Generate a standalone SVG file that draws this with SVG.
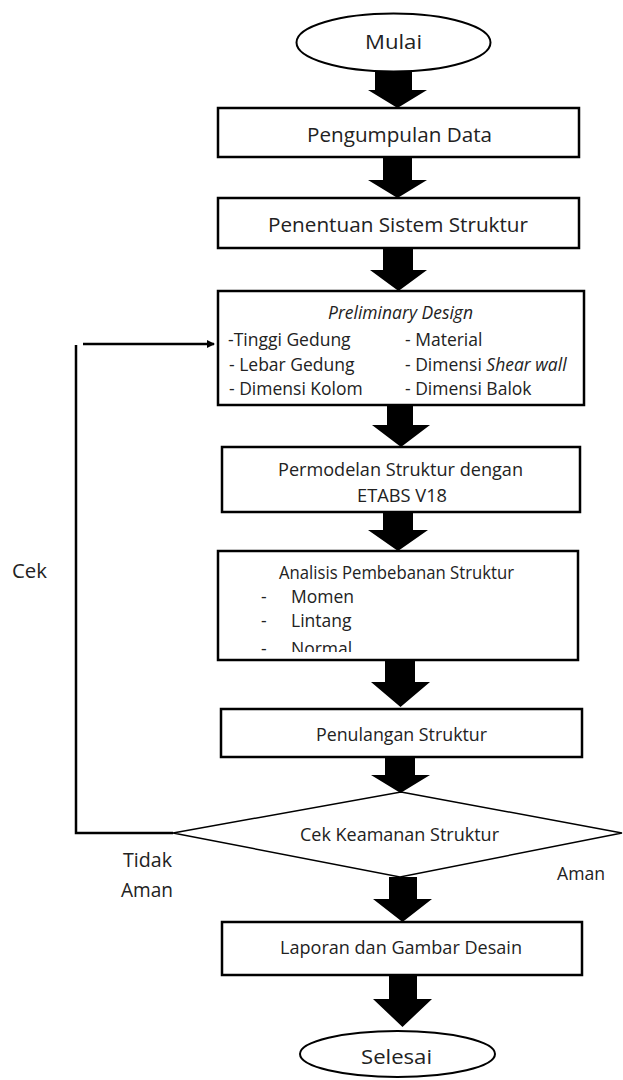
<svg xmlns="http://www.w3.org/2000/svg" width="623" height="1080" viewBox="0 0 623 1080">
<style>
.box{fill:#fff;stroke:#000;stroke-width:2.5}
.ell{fill:#fff;stroke:#000;stroke-width:2}
.dia{fill:#fff;stroke:#000;stroke-width:1.5}
.arr{fill:#000}
.ln{fill:none;stroke:#000;stroke-width:2.5}
text{font-family:"Open Sans","Noto Sans",sans-serif;fill:#222;font-size:17.5px}
.big{font-size:20px}
.it{font-style:italic}
</style>
<defs>
<marker id="ah" markerWidth="8" markerHeight="8" refX="7" refY="4" orient="auto" markerUnits="userSpaceOnUse">
<path d="M0,0 L8,4 L0,8 z" fill="#000"/>
</marker>
<clipPath id="clipA"><rect x="218" y="551" width="360" height="101"/></clipPath>
</defs>

<g id="connectors">
<path class="arr" d="M375,72 H412 V90 H427 L397.5,108 L368,90 H375 Z"/>
<path class="arr" d="M383,157 H412 V180 H427 L397.5,198 L368,180 H383 Z"/>
<path class="arr" d="M383,248 H413 V270 H427 L398.5,291 L370,270 H383 Z"/>
<path class="arr" d="M387,405 H413 V425 H430 L401,447 L372,425 H387 Z"/>
<path class="arr" d="M383,511 H413 V530 H428 L398,551 L368,530 H383 Z"/>
<path class="arr" d="M385,660 H415 V682 H430 L400.5,707 L371,682 H385 Z"/>
<path class="arr" d="M385,757 H415 V775 H430 L400.5,793 L371,775 H385 Z"/>
<path class="arr" d="M389,877 H417 V899 H432 L402.5,922 L373,899 H389 Z"/>
<path class="arr" d="M389,975 H417 V999 H432 L402.5,1027 L373,999 H389 Z"/>
<path class="ln" d="M173,833 H76 V345"/>
<path class="ln" d="M83,344 H214" marker-end="url(#ah)"/>
</g>

<g id="mulai">
<ellipse class="ell" cx="393.5" cy="42.5" rx="97" ry="29"/>
<text class="big" x="365" y="49" textLength="57" lengthAdjust="spacingAndGlyphs">Mulai</text>
</g>

<g id="pengumpulan">
<rect class="box" x="218" y="108" width="361" height="49"/>
<text class="big" x="307" y="142" textLength="185" lengthAdjust="spacingAndGlyphs">Pengumpulan Data</text>
</g>

<g id="penentuan">
<rect class="box" x="218" y="198" width="361" height="50"/>
<text class="big" x="268" y="232" textLength="260" lengthAdjust="spacingAndGlyphs">Penentuan Sistem Struktur</text>
</g>

<g id="preliminary">
<rect class="box" x="218" y="291" width="366" height="114"/>
<text class="it" x="328" y="319" textLength="145" lengthAdjust="spacingAndGlyphs">Preliminary Design</text>
<text x="228" y="346">-Tinggi Gedung</text>
<text x="229" y="371">- Lebar Gedung</text>
<text x="229" y="395">- Dimensi Kolom</text>
<text x="405" y="346">- Material</text>
<text x="405" y="371">- Dimensi <tspan class="it">Shear wall</tspan></text>
<text x="405" y="395">- Dimensi Balok</text>
</g>

<g id="permodelan">
<rect class="box" x="222" y="447" width="358" height="65"/>
<text x="278" y="476" textLength="245" lengthAdjust="spacingAndGlyphs">Permodelan Struktur dengan</text>
<text x="357" y="502" textLength="90" lengthAdjust="spacingAndGlyphs">ETABS V18</text>
</g>

<g id="analisis">
<rect class="box" x="218" y="551" width="360" height="109"/>
<text x="279" y="579" textLength="235" lengthAdjust="spacingAndGlyphs">Analisis Pembebanan Struktur</text>
<text x="261" y="603">-</text>
<text x="291" y="603">Momen</text>
<text x="261" y="627">-</text>
<text x="291" y="627">Lintang</text>
<g clip-path="url(#clipA)">
<text x="261" y="655">-</text>
<text x="291" y="655">Normal</text>
</g>
</g>

<g id="penulangan">
<rect class="box" x="221" y="709" width="361" height="48"/>
<text x="316" y="741" textLength="171" lengthAdjust="spacingAndGlyphs">Penulangan Struktur</text>
</g>

<g id="cek-keamanan">
<polygon class="dia" points="401,792 622,833 400,877 173,833"/>
<text x="300" y="841" textLength="199" lengthAdjust="spacingAndGlyphs">Cek Keamanan Struktur</text>
</g>

<g id="laporan">
<rect class="box" x="222" y="922" width="360" height="53"/>
<text x="280" y="954" textLength="242" lengthAdjust="spacingAndGlyphs">Laporan dan Gambar Desain</text>
</g>

<g id="selesai">
<ellipse class="ell" cx="397.5" cy="1054" rx="97.5" ry="23"/>
<text class="big" x="361" y="1064" textLength="71" lengthAdjust="spacingAndGlyphs">Selesai</text>
</g>

<g id="labels">
<text class="big" x="12" y="578" textLength="35" lengthAdjust="spacingAndGlyphs">Cek</text>
<text class="big" x="123" y="867" textLength="49" lengthAdjust="spacingAndGlyphs">Tidak</text>
<text class="big" x="121" y="897" textLength="52" lengthAdjust="spacingAndGlyphs">Aman</text>
<text x="557" y="880" textLength="48" lengthAdjust="spacingAndGlyphs">Aman</text>
</g>
</svg>
